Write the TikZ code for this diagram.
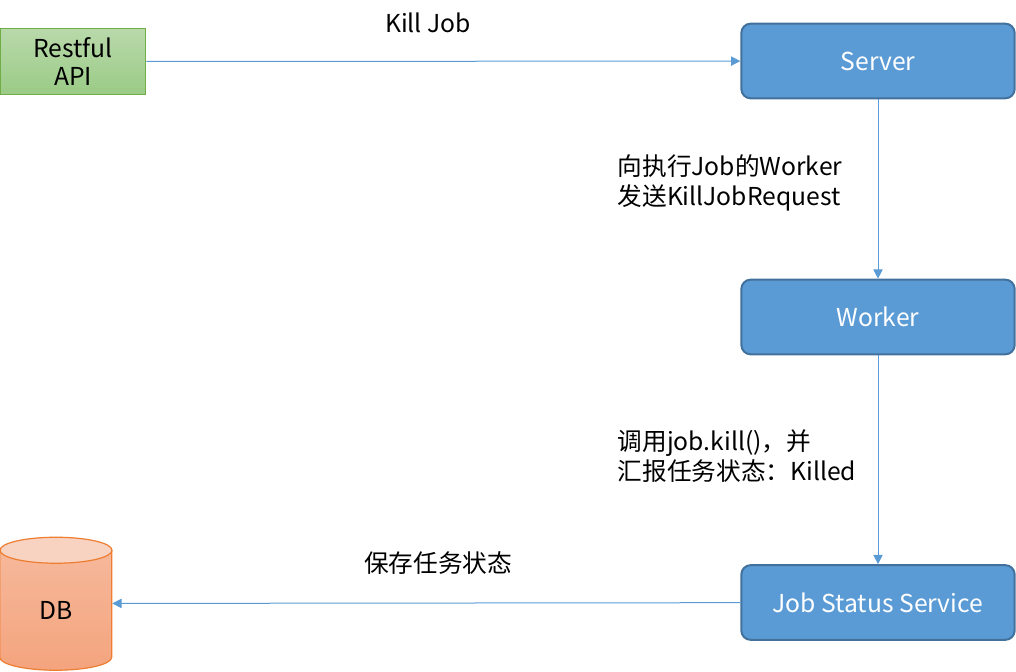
\documentclass[tikz,border=0pt]{standalone}
\usepackage{fontspec}
\setmainfont{Noto Sans CJK SC}
\usetikzlibrary{arrows.meta,positioning}

\definecolor{boxblue}{HTML}{5B9BD5}
\definecolor{boxline}{HTML}{41719C}
\definecolor{apitop}{HTML}{B9D9AB}
\definecolor{apibot}{HTML}{9ACB86}
\definecolor{apiline}{HTML}{70AD47}
\definecolor{dbbodytop}{HTML}{F6BA9D}
\definecolor{dbbodybot}{HTML}{F4A47E}
\definecolor{dbtop}{HTML}{F9D3C1}
\definecolor{dbline}{HTML}{ED7D31}

\tikzset{
  box/.style={draw=boxline, line width=1.5pt, fill=boxblue, rounded corners=7pt,
    minimum width=205pt, minimum height=56pt, text=white, font=\fontsize{18.5}{22}\selectfont},
  api/.style={draw=apiline, line width=0.9pt, top color=apitop, bottom color=apibot,
    minimum width=109pt, minimum height=50pt, inner sep=0pt, align=center,
    font=\fontsize{18.5}{21.5}\selectfont},
  link/.style={draw=boxblue, line width=0.75pt, -{Triangle[length=7pt,width=7pt]}},
  lbl/.style={align=left, font=\fontsize{18.5}{22.5}\selectfont}
}

\begin{document}
\begin{tikzpicture}[x=0.75pt,y=-0.75pt]
	\useasboundingbox (0,0) rectangle (1016,671);

	\node [api] (api) at (73,61.5) {Restful\\API};
	\node [box] (server) at (878,61) {Server};
	\node [box] (worker) at (878,317) {Worker};
	\node [box] (jss) at (878,602.5) {Job Status Service};
	\node [minimum width=84pt, minimum height=99pt, inner sep=0pt] (db) at (56,603.5) {};

	% database cylinder
	\draw [dbline, line width=0.9pt, top color=dbbodytop, bottom color=dbbodybot]
		(db.north west) ++(0,13) -- ++(0,107)
		arc [start angle=180, end angle=0, x radius=56, y radius=13]
		-- ++(0,-107);
	\draw [dbline, line width=0.9pt, fill=dbtop]
		(db.north) ++(0,13) ellipse [x radius=56, y radius=13];
	\node [font=\fontsize{18.5}{22}\selectfont] at ([yshift=-5pt]db.center) {DB};

	\draw [link] (api) -- (server);
	\draw [link] (server) -- (worker);
	\draw [link] (worker) -- (jss);
	\draw [link] (jss) -- (db);

	\node [font=\fontsize{18.5}{22}\selectfont] (killtxt) at (428,23) {Kill Job};
	\node [lbl, anchor=west] (sendtxt) at (613,183) {向执行Job的Worker\\发送KillJobRequest};
	\node [lbl, anchor=west] (calltxt) at (613,456) {调用job.kill()，并\\汇报任务状态：Killed};
	\node [font=\fontsize{18.5}{22}\selectfont] (savetxt) at (438,563) {保存任务状态};
\end{tikzpicture}
\end{document}
